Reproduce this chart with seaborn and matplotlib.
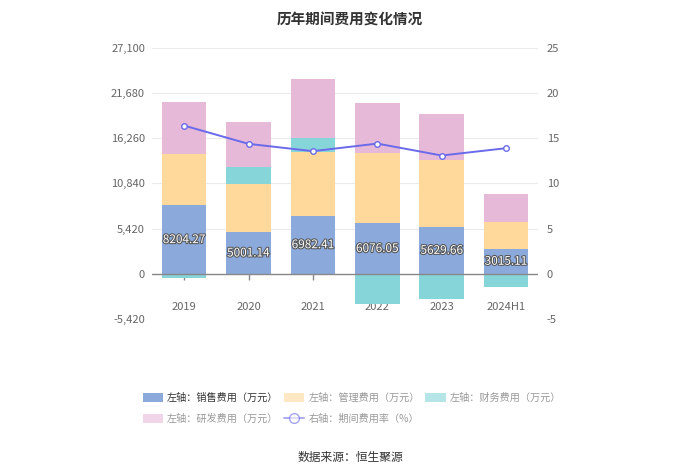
import numpy as np
import pandas as pd
import matplotlib
matplotlib.use("Agg")
import matplotlib.pyplot as plt
import matplotlib.patheffects as pe
from matplotlib.patches import Patch
from matplotlib.lines import Line2D
import seaborn as sns

sns.set_theme(style="white")
plt.rcParams['font.family'] = ['Noto Sans CJK SC', 'DejaVu Sans']
plt.rcParams['axes.unicode_minus'] = False

years = ["2019", "2020", "2021", "2022", "2023", "2024H1"]
sales = [8204.27, 5001.14, 6982.41, 6076.05, 5629.66, 3015.11]
mgmt = [6222, 5759, 7643, 8390, 8039, 3241]
finance = [-518, 2032, 1714, -3587, -3068, -1594]
rnd = [6137, 5459, 6973, 5977, 5539, 3348]
rate = [16.4, 14.38, 13.57, 14.41, 13.09, 13.90]

left_ticks = [-5420, 0, 5420, 10840, 16260, 21680, 27100]
right_ticks = [-5, 0, 5, 10, 15, 20, 25]

c_sales = "#8BA9DA"
c_mgmt = "#FFD99B"
c_fin = "#86D5D8"
c_rnd = "#E6B9D9"
c_line = "#6A6AEA"

df = pd.DataFrame({"year": years, "sales": sales, "mgmt": mgmt,
                   "finance": finance, "rnd": rnd, "rate": rate})
df["x"] = np.arange(len(df))

# stacking (positive / negative stacks separately)
pos = np.zeros(len(df))
neg = np.zeros(len(df))
bottoms = {}
for col in ["sales", "mgmt", "finance", "rnd"]:
    v = df[col].to_numpy(dtype=float)
    b = np.where(v >= 0, pos, neg)
    bottoms[col] = b
    pos = np.where(v >= 0, pos + v, pos)
    neg = np.where(v < 0, neg + v, neg)

fig = plt.figure(figsize=(7, 4.74), dpi=100)
ax = fig.add_axes([0.217, 0.327, 0.552, 0.572])

colors = {"sales": c_sales, "mgmt": c_mgmt, "finance": c_fin, "rnd": c_rnd}
for col in ["sales", "mgmt", "finance", "rnd"]:
    sns.barplot(data=df, x="year", y=col, bottom=bottoms[col], color=colors[col],
                width=0.69, saturation=1, ax=ax, linewidth=0, edgecolor="none")

ax.set_ylim(left_ticks[0], left_ticks[-1])
ax.set_yticks(left_ticks)
ax.set_yticklabels([f"{t:,}" for t in left_ticks])
ax.set_xlim(-0.5, len(df) - 0.5)
ax.set_xlabel("")
ax.set_ylabel("")
for s in ax.spines.values():
    s.set_visible(False)
ax.spines["bottom"].set_position(("data", 0))
ax.grid(axis="y", color="#EBEBEB", linewidth=0.8)
ax.set_axisbelow(True)
ax.axhline(0, color="#888888", linewidth=1, zorder=3)
ax.tick_params(axis="y", colors="#666666", labelsize=8, length=0, pad=5)
ax.tick_params(axis="x", colors="#888888", labelcolor="#666666", labelsize=8,
               length=4, width=1, direction="out", pad=16, bottom=True)

for xi, v in zip(df["x"], sales):
    ax.text(xi, v / 2, f"{v:.2f}", ha="center", va="center", color="white", fontsize=8.5,
            zorder=5, path_effects=[pe.withStroke(linewidth=1.5, foreground="#555555")])

ax2 = ax.twinx()
sns.lineplot(data=df, x="x", y="rate", ax=ax2, color=c_line, linewidth=1.4,
             marker="o", markersize=4, markerfacecolor="white",
             markeredgecolor=c_line, markeredgewidth=1)
ax2.set_ylim(right_ticks[0], right_ticks[-1])
ax2.set_yticks(right_ticks)
ax2.set_ylabel("")
ax2.set_xlabel("")
for s in ax2.spines.values():
    s.set_visible(False)
ax2.tick_params(axis="y", colors="#666666", labelsize=8, length=0, pad=6)
ax2.grid(False)
ax.set_xlim(-0.5, len(df) - 0.5)

fig.text(0.5, 0.975, "历年期间费用变化情况", ha="center", va="top",
         fontsize=10.5, fontweight="bold", color="#333333")

h_sales = Patch(facecolor=c_sales, edgecolor="none")
h_mgmt = Patch(facecolor=c_mgmt, edgecolor="none", alpha=0.6)
h_fin = Patch(facecolor=c_fin, edgecolor="none", alpha=0.6)
h_rnd = Patch(facecolor=c_rnd, edgecolor="none", alpha=0.6)
h_rate = Line2D([0], [0], color=c_line, alpha=0.6, marker="o", markersize=7,
                markerfacecolor="white", markeredgecolor=c_line, linewidth=1.3)
labels_map = ["左轴：销售费用（万元）", "左轴：管理费用（万元）", "左轴：财务费用（万元）",
              "左轴：研发费用（万元）", "右轴：期间费用率（%）"]
# matplotlib fills legend columns first: reorder so rows read left-to-right
handles = [h_sales, h_rnd, h_mgmt, h_rate, h_fin]
labels = [labels_map[0], labels_map[3], labels_map[1], labels_map[4], labels_map[2]]
leg = fig.legend(handles, labels, ncol=3, loc="upper left", bbox_to_anchor=(0.204, 0.171),
                 frameon=False, fontsize=7.3, handlelength=2.0, handleheight=1.0,
                 columnspacing=0.55, handletextpad=0.4, labelspacing=1.05,
                 borderpad=0, borderaxespad=0)
for t, lab in zip(leg.get_texts(), labels):
    t.set_color("#333333" if lab == labels_map[0] else "#999999")

fig.text(0.5, 0.035, "数据来源：恒生聚源", ha="center", va="center", fontsize=8.5, color="#333333")

fig.savefig("out.png", dpi=100)
